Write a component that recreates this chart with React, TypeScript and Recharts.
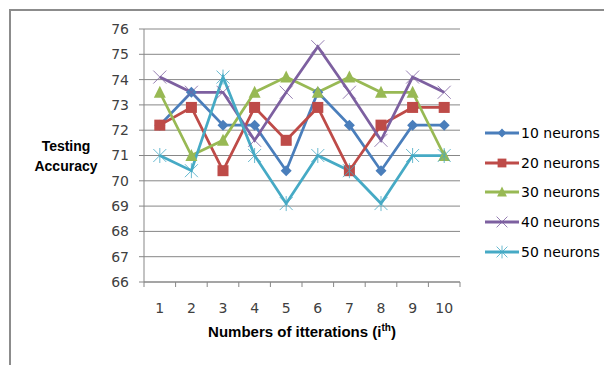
import React from "react";
import { LineChart, Line, XAxis, YAxis, CartesianGrid } from "recharts";

// testing accuracy per iteration, one list per hidden-layer size
const ITERATIONS = [1, 2, 3, 4, 5, 6, 7, 8, 9, 10];
const ACC_10 = [72.2, 73.5, 72.2, 72.2, 70.4, 73.5, 72.2, 70.4, 72.2, 72.2];
const ACC_20 = [72.2, 72.9, 70.4, 72.9, 71.6, 72.9, 70.4, 72.2, 72.9, 72.9];
const ACC_30 = [73.5, 71.0, 71.6, 73.5, 74.1, 73.5, 74.1, 73.5, 73.5, 71.0];
const ACC_40 = [74.1, 73.5, 73.5, 71.6, 73.5, 75.3, 73.5, 71.6, 74.1, 73.5];
const ACC_50 = [71.0, 70.4, 74.1, 71.0, 69.1, 71.0, 70.4, 69.1, 71.0, 71.0];
const Y_TICKS = [66, 67, 68, 69, 70, 71, 72, 73, 74, 75, 76];

type MarkerKind = "diamond" | "square" | "triangle" | "cross" | "star";

const SERIES: { key: string; name: string; values: number[]; color: string; marker: MarkerKind }[] = [
  { key: "n10", name: "10 neurons", values: ACC_10, color: "#4A7EBB", marker: "diamond" },
  { key: "n20", name: "20 neurons", values: ACC_20, color: "#BE4B48", marker: "square" },
  { key: "n30", name: "30 neurons", values: ACC_30, color: "#98B954", marker: "triangle" },
  { key: "n40", name: "40 neurons", values: ACC_40, color: "#7D60A0", marker: "cross" },
  { key: "n50", name: "50 neurons", values: ACC_50, color: "#46AAC5", marker: "star" },
];

const data = ITERATIONS.map((it, i) => {
  const row: Record<string, number> = { it };
  SERIES.forEach((s) => (row[s.key] = s.values[i]));
  return row;
});

const GRID = "#878787";
const FONT = "'DejaVu Sans', sans-serif";
const BOLD_FONT = "'Liberation Sans', Arial, sans-serif";

function Marker({ kind, cx, cy, color, scale = 1 }: { kind: MarkerKind; cx: number; cy: number; color: string; scale?: number }) {
  const h = 5.5 * scale;
  switch (kind) {
    case "diamond":
      return <polygon points={`${cx},${cy - h} ${cx + h},${cy} ${cx},${cy + h} ${cx - h},${cy}`} fill={color} />;
    case "square":
      return <rect x={cx - h} y={cy - h} width={h * 2} height={h * 2} fill={color} />;
    case "triangle":
      return <polygon points={`${cx},${cy - h - 1} ${cx + h + 0.5},${cy + h} ${cx - h - 0.5},${cy + h}`} fill={color} />;
    case "cross":
      return (
        <g stroke={color} strokeWidth={1} opacity={0.8}>
          <line x1={cx - h - 1} y1={cy - h - 1} x2={cx + h + 1} y2={cy + h + 1} />
          <line x1={cx - h - 1} y1={cy + h + 1} x2={cx + h + 1} y2={cy - h - 1} />
        </g>
      );
    case "star":
      return (
        <g stroke={color} strokeWidth={1} opacity={0.8}>
          <line x1={cx - h - 1} y1={cy - h - 1} x2={cx + h + 1} y2={cy + h + 1} />
          <line x1={cx - h - 1} y1={cy + h + 1} x2={cx + h + 1} y2={cy - h - 1} />
          <line x1={cx} y1={cy - h - 2} x2={cx} y2={cy + h + 2} />
        </g>
      );
  }
}

// category labels sit mid-band, tick marks sit on the band edges
function IterationTick(props: any) {
  const { x, y, payload, index, visibleTicksCount, width } = props;
  const half = (Number(width) || 316) / visibleTicksCount / 2;
  const axisY = y - 21;
  return (
    <g>
      <line x1={x - half} y1={axisY} x2={x - half} y2={axisY + 5} stroke={GRID} />
      {index === visibleTicksCount - 1 && (
        <line x1={x + half} y1={axisY} x2={x + half} y2={axisY + 5} stroke={GRID} />
      )}
      <text x={x} y={y} dy="0.71em" textAnchor="middle" fill="#404040" fontSize={14} fontFamily={FONT}>
        {payload.value}
      </text>
    </g>
  );
}

function LegendList() {
  return (
    <div style={{ position: "absolute", left: 485, top: 118, fontFamily: FONT, fontSize: 14, color: "#000" }}>
      {SERIES.map((s) => (
        <div key={s.key} style={{ display: "flex", alignItems: "center", height: 29.7 }}>
          <svg width={35} height={14} style={{ marginRight: 1 }}>
            <line x1={0} y1={7} x2={34} y2={7} stroke={s.color} strokeWidth={3} />
            <Marker kind={s.marker} cx={17} cy={7} color={s.color} scale={0.8} />
          </svg>
          <span>{s.name}</span>
        </div>
      ))}
    </div>
  );
}

export default function App() {
  return (
    <div style={{ position: "absolute", left: 0, top: 0, width: 604, height: 365, background: "#fff", overflow: "hidden" }}>
      <div
        style={{
          position: "absolute",
          left: 9,
          top: 9,
          width: 700,
          height: 500,
          borderTop: "2px solid #8c8c8c",
          borderLeft: "2px solid #8c8c8c",
        }}
      />
      <LineChart width={604} height={365} data={data} margin={{ top: 29, right: 144, bottom: 23, left: 0 }}>
        <CartesianGrid vertical={false} stroke={GRID} />
        <XAxis
          dataKey="it"
          type="number"
          domain={[0.5, 10.5]}
          ticks={ITERATIONS}
          height={60}
          stroke={GRID}
          tickLine={false}
          tickSize={5}
          tickMargin={16}
          tick={<IterationTick />}
        />
        <YAxis
          domain={[66, 76]}
          ticks={Y_TICKS}
          width={144}
          stroke={GRID}
          tickSize={5}
          tickMargin={10}
          tick={{ fill: "#404040", fontSize: 14, fontFamily: FONT }}
        />
        {SERIES.map((s) => (
          <Line
            key={s.key}
            dataKey={s.key}
            name={s.name}
            stroke={s.color}
            strokeWidth={2.75}
            isAnimationActive={false}
            dot={(p: any) => <Marker key={`${s.key}-${p.index}`} kind={s.marker} cx={p.cx} cy={p.cy} color={s.color} />}
            activeDot={false}
          />
        ))}
      </LineChart>
      <div
        style={{
          position: "absolute",
          left: 20,
          top: 136,
          width: 92,
          textAlign: "center",
          fontFamily: BOLD_FONT,
          fontWeight: "bold",
          fontSize: 14,
          lineHeight: "20px",
        }}
      >
        Testing
        <br />
        Accuracy
      </div>
      <div
        style={{
          position: "absolute",
          left: 144,
          width: 316,
          top: 322,
          textAlign: "center",
          fontFamily: BOLD_FONT,
          fontWeight: "bold",
          fontSize: 15,
          lineHeight: "20px",
        }}
      >
        Numbers of itterations (i<sup style={{ fontSize: 10, lineHeight: 0 }}>th</sup>)
      </div>
      <LegendList />
    </div>
  );
}
